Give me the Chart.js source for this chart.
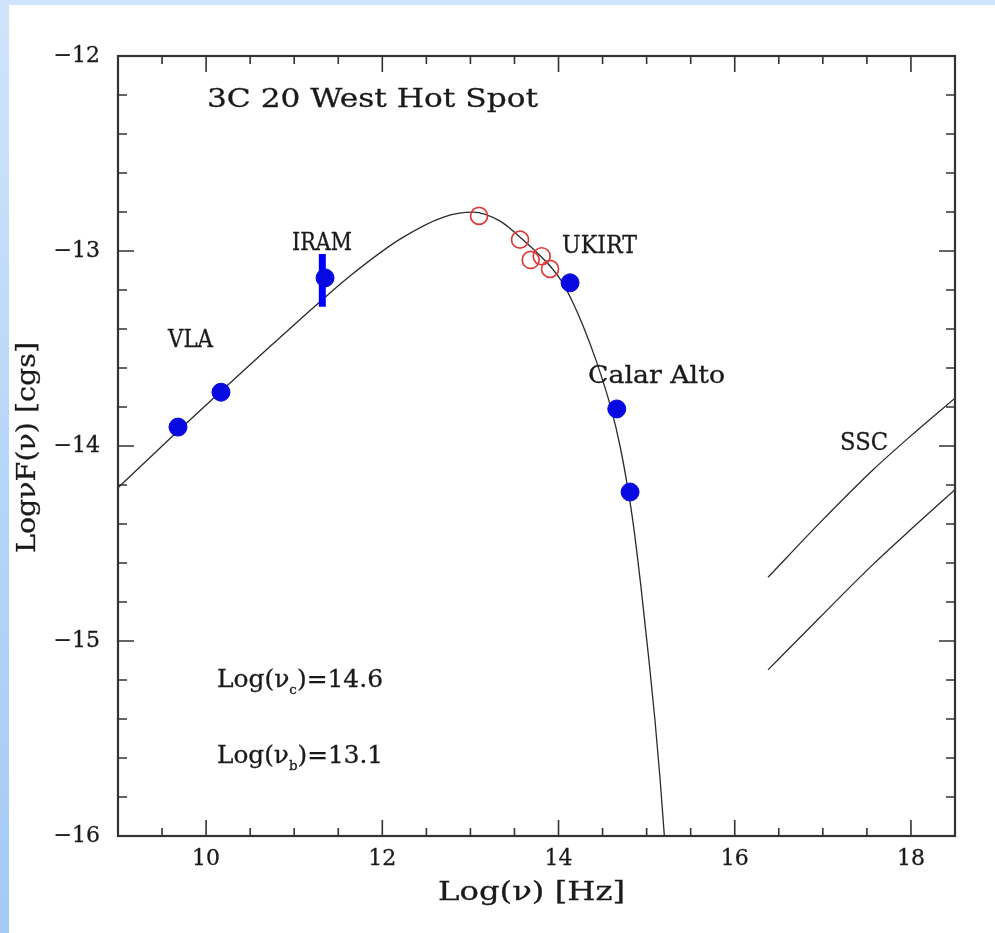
<!DOCTYPE html>
<html>
<head>
<meta charset="utf-8">
<title>3C 20 West Hot Spot</title>
<script src="https://cdn.jsdelivr.net/npm/chart.js@4.4.1/dist/chart.umd.min.js"></script>
<style>
  html, body { margin: 0; padding: 0; }
  body {
    width: 995px; height: 933px; position: relative; overflow: hidden;
    background: linear-gradient(to bottom, #d0e4fb 0%, #b6d6f8 50%, #a4caf4 100%);
  }
  #panel { position: absolute; left: 9px; top: 5px; right: 0; bottom: 0; background: #fff; }
  #sed { position: absolute; left: 0; top: 0; }
</style>
</head>
<body>
<div id="panel"></div>
<canvas id="sed" width="995" height="933"></canvas>
<script>
// model fit (log nu, log nuF)
var curveX = [9.000, 9.477, 9.681, 10.169, 10.725, 11.293, 11.633, 12.201, 12.689, 13.030, 13.336, 13.563, 13.904, 14.040, 14.153, 14.278, 14.426, 14.596, 14.698, 14.789, 14.846, 14.936, 15.027, 15.095, 15.152, 15.198, 15.205];
var curveY = [-14.214, -14.010, -13.923, -13.719, -13.490, -13.260, -13.128, -12.939, -12.827, -12.801, -12.847, -12.929, -13.077, -13.158, -13.255, -13.383, -13.561, -13.806, -14.000, -14.224, -14.393, -14.724, -15.102, -15.408, -15.704, -15.980, -16.030];

// SSC predictions
var sscX = [16.378, 16.968, 17.570, 18.047, 18.500];
var sscUpperY = [-14.673, -14.393, -14.122, -13.929, -13.755];
var sscLowerY = [-15.148, -14.878, -14.607, -14.408, -14.224];

// VLA, IRAM, UKIRT (K), Calar Alto
var blueX = [9.681, 10.169, 11.350, 14.131, 14.661, 14.812];
var blueY = [-13.903, -13.724, -13.138, -13.163, -13.810, -14.236];

// UKIRT open circles
var redX = [13.098, 13.563, 13.684, 13.809, 13.904];
var redY = [-12.820, -12.942, -13.046, -13.027, -13.092];

// IRAM error bar
var iramErrX = [11.319, 11.319];
var iramErrY = [-13.015, -13.286];

var xTickLabels = [10, 12, 14, 16, 18];
var yTickLabels = [-16, -15, -14, -13, -12];

function pairs(xs, ys) {
  return xs.map(function(x, i){ return {x: x, y: ys[i]}; });
}

// stroke a little so the text looks as heavy as the plotted original
function fitText(ctx, str, x, y, size, width, rot) {
  ctx.save();
  ctx.font = size + 'px "DejaVu Serif"';
  var w = ctx.measureText(str).width;
  ctx.translate(x, y);
  if (rot) ctx.rotate(rot);
  ctx.scale(width / w, 1);
  ctx.fillText(str, 0, 0);
  ctx.strokeText(str, 0, 0);
  ctx.restore();
}

function subText(ctx, parts, x, y, width) {
  ctx.save();
  var total = 0;
  parts.forEach(function(p){
    ctx.font = p.s + 'px "DejaVu Serif"';
    p.w = ctx.measureText(p.t).width;
    total += p.w;
  });
  ctx.translate(x, y);
  ctx.scale(width / total, 1);
  var cx = 0;
  parts.forEach(function(p){
    ctx.font = p.s + 'px "DejaVu Serif"';
    ctx.fillText(p.t, cx, p.dy || 0);
    ctx.strokeText(p.t, cx, p.dy || 0);
    cx += p.w;
  });
  ctx.restore();
}

var frameTicks = {
  id: 'frameTicks',
  afterDraw: function(chart) {
    var ctx = chart.ctx;
    var a = chart.chartArea;
    var xs = chart.scales.x, ys = chart.scales.y;
    ctx.save();
    ctx.strokeStyle = '#333';
    ctx.lineWidth = 1.6;
    ctx.beginPath();
    for (var i = 19; i <= 36; i++) {
      var v = i / 2;
      var px = xs.getPixelForValue(v);
      var len = (i % 4 === 0) ? 16 : 8;
      ctx.moveTo(px, a.bottom); ctx.lineTo(px, a.bottom - len);
      ctx.moveTo(px, a.top); ctx.lineTo(px, a.top + len);
    }
    for (var j = -79; j <= -61; j++) {
      var py = ys.getPixelForValue(j / 5);
      var l2 = (j % 5 === 0) ? 16 : 9;
      ctx.moveTo(a.left, py); ctx.lineTo(a.left + l2, py);
      ctx.moveTo(a.right, py); ctx.lineTo(a.right - l2, py);
    }
    ctx.stroke();
    ctx.lineWidth = 2.2;
    ctx.strokeRect(a.left, a.top, a.right - a.left, a.bottom - a.top);

    ctx.fillStyle = '#1a1a1a';
    ctx.strokeStyle = '#1a1a1a';
    ctx.lineWidth = 0.3;
    ctx.textBaseline = 'alphabetic';
    fitText(ctx, '3C 20 West Hot Spot', 207, 107, 26, 331);
    fitText(ctx, 'IRAM', 292, 250, 24, 60);
    fitText(ctx, 'VLA', 168, 347, 24, 45);
    fitText(ctx, 'UKIRT', 562, 253, 24, 75);
    fitText(ctx, 'Calar Alto', 588, 383, 24, 137);
    fitText(ctx, 'SSC', 840, 450, 24, 48);
    subText(ctx, [{t: 'Log(\u03bd', s: 24}, {t: 'c', s: 13, dy: 7}, {t: ')=14.6', s: 24}], 217, 687, 166);
    subText(ctx, [{t: 'Log(\u03bd', s: 24}, {t: 'b', s: 13, dy: 7}, {t: ')=13.1', s: 24}], 217, 763, 166);
    fitText(ctx, 'Log(\u03bd) [Hz]', 438, 900, 26, 187);
    fitText(ctx, 'Log\u03bdF(\u03bd) [cgs]', 35, 553, 26, 211, -Math.PI / 2);
    ctx.restore();
  }
};

var data = {
  datasets: [{
    type: 'line',
    data: pairs(curveX, curveY),
    borderColor: '#2a2a2a',
    borderWidth: 1.3,
    pointRadius: 0,
    cubicInterpolationMode: 'monotone',
    order: 5
  }, {
    type: 'line',
    data: pairs(sscX, sscUpperY),
    borderColor: '#2a2a2a',
    borderWidth: 1.3,
    pointRadius: 0,
    cubicInterpolationMode: 'monotone',
    order: 5
  }, {
    type: 'line',
    data: pairs(sscX, sscLowerY),
    borderColor: '#2a2a2a',
    borderWidth: 1.3,
    pointRadius: 0,
    cubicInterpolationMode: 'monotone',
    order: 5
  }, {
    type: 'line',
    data: pairs(iramErrX, iramErrY),
    borderColor: '#0000ff',
    borderWidth: 7,
    borderCapStyle: 'butt',
    pointRadius: 0,
    order: 3
  }, {
    type: 'scatter',
    data: pairs(redX, redY),
    pointRadius: 8.5,
    pointBorderWidth: 1.7,
    pointBorderColor: '#dd3b3b',
    pointBackgroundColor: 'rgba(0,0,0,0)',
    order: 2
  }, {
    type: 'scatter',
    data: pairs(blueX, blueY),
    pointRadius: 9,
    pointBorderWidth: 1,
    pointBorderColor: '#0808e0',
    pointBackgroundColor: '#0808e0',
    order: 1
  }]
};

var config = {
  type: 'scatter',
  data: data,
  options: {
    responsive: false,
    animation: false,
    layout: { padding: { left: 0, right: 40, top: 56, bottom: 0 } },
    plugins: { legend: { display: false }, tooltip: { enabled: false } },
    scales: {
      x: {
        type: 'linear',
        min: 9, max: 18.5,
        grid: { display: false, drawTicks: false },
        border: { display: false },
        afterBuildTicks: function(scale){ scale.ticks = xTickLabels.map(function(v){ return {value: v}; }); },
        afterFit: function(scale){ scale.height = 97; },
        ticks: {
          padding: 10,
          color: '#1a1a1a',
          textStrokeColor: '#1a1a1a',
          textStrokeWidth: 0.3,
          font: { family: 'DejaVu Serif', size: 22 },
          callback: function(v){ return String(v); }
        }
      },
      y: {
        type: 'linear',
        min: -16, max: -12,
        grid: { display: false, drawTicks: false },
        border: { display: false },
        afterBuildTicks: function(scale){ scale.ticks = yTickLabels.map(function(v){ return {value: v}; }); },
        afterFit: function(scale){ scale.width = 118; },
        ticks: {
          padding: 18,
          color: '#1a1a1a',
          textStrokeColor: '#1a1a1a',
          textStrokeWidth: 0.3,
          font: { family: 'DejaVu Serif', size: 22 },
          callback: function(v){ return v < 0 ? '\u2212' + Math.abs(v) : String(v); }
        }
      }
    }
  },
  plugins: [frameTicks]
};

const sedChart = new Chart(document.getElementById('sed'), config);
</script>
</body>
</html>
